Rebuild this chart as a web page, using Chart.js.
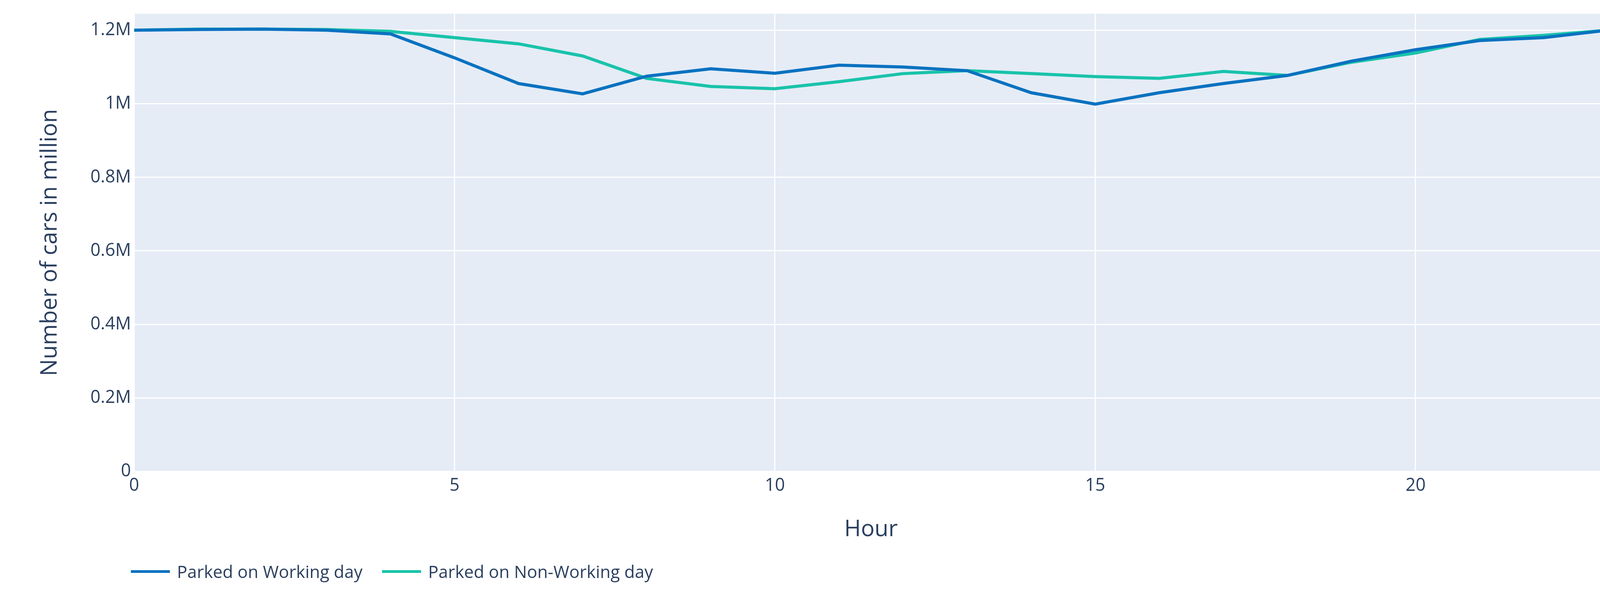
<!DOCTYPE html>
<html>
<head>
<meta charset="utf-8">
<script src="https://cdn.jsdelivr.net/npm/chart.js@4/dist/chart.umd.min.js"></script>
<style>
  html, body { margin: 0; padding: 0; background: #fff; }
  #wrap { width: 4150px; height: 1520px; position: relative; }
  #legend { position: absolute; left: 335px; top: 1432px; display: flex; gap: 50px;
            font-family: 'Open Sans'; font-size: 44px; color: #2a3f5f; }
  .item { display: flex; align-items: center; gap: 18px; }
  .swatch { width: 100px; height: 7px; }
</style>
</head>
<body>
<div id="wrap">
  <canvas id="c" width="4150" height="1520"></canvas>
  <div id="legend">
    <div class="item"><span class="swatch" style="background:#0a72c0"></span>Parked on Working day</div>
    <div class="item"><span class="swatch" style="background:#19c3aa"></span>Parked on Non-Working day</div>
  </div>
</div>
<script>
// hours 0..23
const hours = [0,1,2,3,4,5,6,7,8,9,10,11,12,13,14,15,16,17,18,19,20,21,22,23];

const workingDay = [1200000,1202000,1203000,1200000,1190000,1125000,1055000,1027000,1075000,1095000,1083000,1105000,1100000,1090000,1030000,999000,1030000,1055000,1077000,1116000,1147000,1172000,1180000,1200000];
const nonWorkingDay = [1200000,1203000,1203000,1202000,1197000,1180000,1163000,1130000,1069000,1047000,1041000,1060000,1082000,1090000,1082000,1074000,1069000,1088000,1077000,1113000,1138000,1175000,1186000,1200000];

const xTicks = [0, 5, 10, 15, 20];
const yTicks = [0, 200000, 400000, 600000, 800000, 1000000, 1200000];
const yTickLabels = ['0', '0.2M', '0.4M', '0.6M', '0.8M', '1M', '1.2M'];

const textColor = '#2a3f5f';

// plot background
const plotBg = {
    id: 'plotBg',
    beforeDraw(chart) {
        const a = chart.chartArea;
        const ctx = chart.ctx;
        ctx.save();
        ctx.fillStyle = '#E5ECF6';
        ctx.fillRect(a.left, a.top, a.right - a.left, a.bottom - a.top);
        ctx.restore();
    }
};

new Chart(document.getElementById('c'), {
    type: 'line',
    data: {
        datasets: [
            {
                label: 'Parked on Working day',
                data: hours.map((h, i) => ({ x: h, y: workingDay[i] })),
                borderColor: '#0a72c0',
                borderWidth: 8,
                pointRadius: 0,
                tension: 0
            },
            {
                label: 'Parked on Non-Working day',
                data: hours.map((h, i) => ({ x: h, y: nonWorkingDay[i] })),
                borderColor: '#19c3aa',
                borderWidth: 8,
                pointRadius: 0,
                tension: 0
            }
        ]
    },
    options: {
        responsive: false,
        animation: false,
        layout: { padding: { left: 90, right: 34, top: 32, bottom: 130 } },
        plugins: {
            legend: { display: false },
            tooltip: { enabled: false }
        },
        scales: {
            x: {
                type: 'linear',
                min: 0,
                max: 23,
                afterBuildTicks(axis) {
                    axis.ticks = xTicks.map(v => ({ value: v }));
                },
                ticks: {
                    color: textColor,
                    font: { family: 'Open Sans', size: 45 },
                    padding: 10
                },
                grid: { color: '#ffffff', lineWidth: 3, drawTicks: false },
                border: { display: false },
                title: {
                    display: true,
                    text: 'Hour',
                    color: textColor,
                    font: { family: 'Open Sans', size: 58 },
                    padding: { top: 40, bottom: 0 }
                }
            },
            y: {
                min: 0,
                max: 1245000,
                afterBuildTicks(axis) {
                    axis.ticks = yTicks.map(v => ({ value: v }));
                },
                ticks: {
                    color: textColor,
                    font: { family: 'Open Sans', size: 45 },
                    padding: 8,
                    callback: v => yTickLabels[yTicks.indexOf(v)]
                },
                grid: { color: '#ffffff', lineWidth: 3, drawTicks: false },
                border: { display: false },
                title: {
                    display: true,
                    text: 'Number of cars in million',
                    color: textColor,
                    font: { family: 'Open Sans', size: 58 },
                    padding: { bottom: 60 }
                }
            }
        }
    },
    plugins: [plotBg]
});
</script>
</body>
</html>
